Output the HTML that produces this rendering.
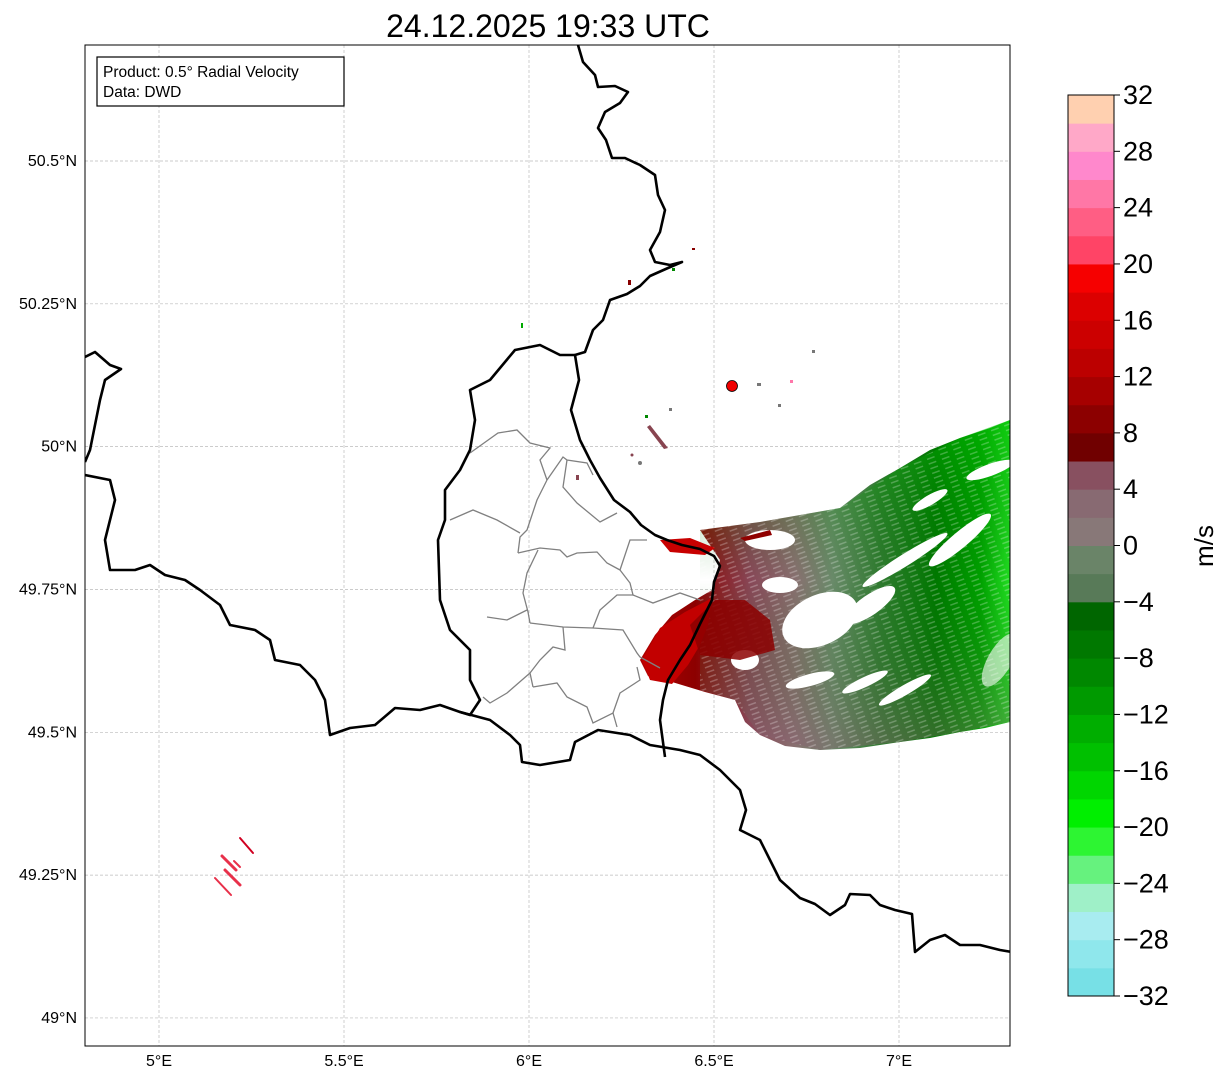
<!DOCTYPE html>
<html><head><meta charset="utf-8">
<style>
body{margin:0;background:#fff;}
svg{display:block;font-family:"Liberation Sans","DejaVu Sans",sans-serif;}
</style></head>
<body>
<svg id="fig" width="1225" height="1081" viewBox="0 0 1225 1081" xmlns="http://www.w3.org/2000/svg">
<defs>
<linearGradient id="velgrad" x1="640" y1="0" x2="1010" y2="0" gradientUnits="userSpaceOnUse">
<stop offset="0" stop-color="#b00000"/>
<stop offset="0.15" stop-color="#8c0000"/>
<stop offset="0.3" stop-color="#884858"/>
<stop offset="0.42" stop-color="#887070"/>
<stop offset="0.52" stop-color="#6a8a6a"/>
<stop offset="0.65" stop-color="#2f7a2f"/>
<stop offset="0.8" stop-color="#007800"/>
<stop offset="0.92" stop-color="#00a000"/>
<stop offset="1" stop-color="#22dd22"/>
</linearGradient>
<linearGradient id="vgrad2" x1="0" y1="420" x2="0" y2="740" gradientUnits="userSpaceOnUse">
<stop offset="0" stop-color="#00c000" stop-opacity="0.5"/>
<stop offset="0.5" stop-color="#007000" stop-opacity="0"/>
<stop offset="1" stop-color="#886070" stop-opacity="0.4"/>
</linearGradient>
<pattern id="streaks" width="14" height="5" patternUnits="userSpaceOnUse" patternTransform="rotate(-20)">
<rect width="14" height="5" fill="none"/>
<rect x="0" y="3" width="8" height="1.5" fill="#fff" opacity="0.25"/>
</pattern>
<clipPath id="mapclip"><rect x="85" y="45" width="925" height="1001"/></clipPath>
</defs>

<text x="548" y="37" font-size="32" text-anchor="middle">24.12.2025 19:33 UTC</text>

<g id="grid"></g>
<g id="ticks"></g>

<g clip-path="url(#mapclip)">
<g>
<path d="M700,530 L760,522 L800,515 L840,508 L870,485 L900,468 L930,450 L960,438 L990,428 L1010,420 L1010,722 L985,728 L960,732 L930,738 L900,742 L860,748 L820,750 L785,746 L760,735 L745,722 L735,700 L705,692 L672,682 L648,676 L640,660 L655,635 L672,615 L695,600 L712,590 L720,560 Z" fill="url(#velgrad)"/>
<path d="M700,530 L760,522 L840,508 L900,468 L960,438 L1010,420 L1010,722 L960,732 L900,742 L820,750 L760,735 L735,700 L700,690 Z" fill="url(#vgrad2)"/>
<path d="M700,530 L760,522 L840,508 L900,468 L960,438 L1010,420 L1010,722 L960,732 L900,742 L820,750 L760,735 L735,700 L700,690 Z" fill="url(#streaks)"/>
<ellipse cx="905" cy="560" rx="50" ry="6" transform="rotate(-32 905 560)" fill="#fff"/>
<ellipse cx="960" cy="540" rx="40" ry="8" transform="rotate(-40 960 540)" fill="#fff"/>
<ellipse cx="990" cy="470" rx="25" ry="6" transform="rotate(-20 990 470)" fill="#fff"/>
<ellipse cx="930" cy="500" rx="20" ry="5" transform="rotate(-30 930 500)" fill="#fff"/>
<ellipse cx="820" cy="620" rx="40" ry="25" transform="rotate(-25 820 620)" fill="#fff"/>
<ellipse cx="870" cy="605" rx="30" ry="10" transform="rotate(-35 870 605)" fill="#fff"/>
<ellipse cx="780" cy="585" rx="18" ry="8" fill="#fff"/>
<ellipse cx="770" cy="540" rx="25" ry="10" fill="#fff"/>
<ellipse cx="745" cy="660" rx="14" ry="10" fill="#fff"/>
<ellipse cx="810" cy="680" rx="25" ry="6" transform="rotate(-15 810 680)" fill="#fff"/>
<ellipse cx="865" cy="682" rx="25" ry="5" transform="rotate(-25 865 682)" fill="#fff"/>
<ellipse cx="905" cy="690" rx="30" ry="5" transform="rotate(-30 905 690)" fill="#fff"/>
<ellipse cx="1000" cy="660" rx="12" ry="30" transform="rotate(30 1000 660)" fill="#fff" opacity="0.6"/>
<path d="M642,660 L660,628 L685,612 L712,598 L708,625 L700,645 L688,665 L672,684 L650,680 Z" fill="#c20000"/>
<path d="M690,625 L715,600 L745,600 L770,620 L775,650 L740,660 L700,655 Z" fill="#8c0000" opacity="0.85"/>
<path d="M660,540 L690,538 L715,548 L705,555 L670,552 Z" fill="#c80000"/>
<path d="M740,538 L770,530 L772,535 L745,541 Z" fill="#900000"/>
<path d="M650,425 L668,448 L664,449 L647,427 Z" fill="#884450"/>
<circle cx="640" cy="463" r="2" fill="#777"/>
<circle cx="632" cy="455" r="1.5" fill="#884450"/>
<rect x="521" y="323" width="2" height="5" fill="#0a0"/>
<rect x="692" y="248" width="3" height="2" fill="#880000"/>
<rect x="628" y="280" width="3" height="5" fill="#880000"/>
<rect x="672" y="268" width="3" height="3" fill="#080"/>
<rect x="757" y="383" width="4" height="3" fill="#777"/>
<rect x="790" y="380" width="3" height="3" fill="#f7a"/>
<rect x="812" y="350" width="3" height="3" fill="#777"/>
<rect x="778" y="404" width="3" height="3" fill="#777"/>
<rect x="669" y="408" width="3" height="3" fill="#777"/>
<rect x="645" y="415" width="3" height="3" fill="#080"/>
<rect x="576" y="475" width="3" height="5" fill="#884450"/>
</g>
<g stroke-linecap="round">
<line x1="240" y1="838" x2="253" y2="853" stroke="#d00020" stroke-width="2"/>
<line x1="222" y1="856" x2="236" y2="870" stroke="#e8304a" stroke-width="3"/>
<line x1="234" y1="861" x2="240" y2="867" stroke="#e8304a" stroke-width="2"/>
<line x1="225" y1="870" x2="240" y2="885" stroke="#e8304a" stroke-width="3"/>
<line x1="215" y1="878" x2="231" y2="895" stroke="#e8304a" stroke-width="2"/>
</g>
<g fill="none" stroke="#808080" stroke-width="1.3">
<polyline points="470,453 498,433 517,430 530,443 550,448 540,460 547,480"/>
<polyline points="547,480 563,457 567,460 587,463 593,475"/>
<polyline points="567,460 563,487 577,503 600,522 617,513"/>
<polyline points="547,480 537,500 527,530 520,537 518,553"/>
<polyline points="450,520 473,510 497,520 520,533"/>
<polyline points="518,553 540,548 560,550 567,557 577,553 597,552 607,563 620,570"/>
<polyline points="620,570 630,540 647,540"/>
<polyline points="620,570 630,583 633,595 617,595 600,610 593,628"/>
<polyline points="633,595 653,603 680,593 700,600"/>
<polyline points="538,550 527,573 523,593 528,612 530,623"/>
<polyline points="487,617 507,620 527,610"/>
<polyline points="530,623 563,627 593,628 623,630 637,653 640,657 660,668"/>
<polyline points="563,627 565,650 553,647 540,660 530,673 533,687"/>
<polyline points="530,673 507,693 490,703 483,697"/>
<polyline points="533,687 557,683 567,697 587,707 593,723 613,713 617,727"/>
<polyline points="613,713 620,693 640,680 637,667"/>
</g>
<g fill="none" stroke="#000" stroke-width="2.6" stroke-linejoin="round">
<polyline points="578,45 583,62 595,75 598,87 615,86 628,92 620,103 605,112 598,128 606,140 612,158 625,158 640,165 655,175 658,195 665,210 660,232 650,250 655,262 670,265 682,262 668,268 650,276 640,286 627,294 610,300 603,320 593,330 585,352 575,355 579,380 571,410 580,440 590,460 600,478 614,500 630,512 641,525 655,535 667,540 682,545 700,549 714,556 720,566 714,582 712,600 700,624 690,645 680,660 668,680 663,700 660,720 665,757"/>
<polyline points="575,355 560,355 540,345 515,350 490,380 470,390 475,420 470,450 460,470 445,490 445,520 438,540 440,600 450,630 470,650 470,680 480,700 470,715 460,712 440,705 420,710 395,708 375,725 350,728 330,735 325,700 315,680 300,665 275,660 270,640 255,630 230,625 220,605 200,590 185,580 165,575 150,565 135,570 110,570 105,540 115,500 110,480 85,475"/>
<polyline points="460,712 490,720 510,735 520,745 522,762 540,765 570,760 575,742 598,730 630,735 650,745 680,750 700,755 720,770 740,790 746,810 740,830 760,840 770,860 780,880 800,898 815,904 830,915 845,905 850,894 870,895 880,905 895,910 912,914 915,952 930,940 945,935 960,945 980,945 1000,950 1012,952"/>
<polyline points="85,357 95,352 110,365 121,369 105,380 100,400 96,420 90,450 85,462"/>
</g>
<circle cx="732" cy="386" r="5.5" fill="#f00000" stroke="#000" stroke-width="0.8"/>
</g>
<rect x="85" y="45" width="925" height="1001" fill="none" stroke="#000" stroke-width="1"/>

<g>
<rect x="97" y="57" width="247" height="49" fill="#fff" stroke="#000" stroke-width="1.2"/>
<text x="103" y="77" font-size="15.5">Product: 0.5° Radial Velocity</text>
<text x="103" y="97" font-size="15.5">Data: DWD</text>
</g>

<g id="cbar"></g>
<text x="0" y="0" font-size="26" text-anchor="middle" transform="translate(1213 546) rotate(-90)">m/s</text>
</svg>
<script>
const lonTicks = [5, 5.5, 6, 6.5, 7];
const lonLabels = ["5°E", "5.5°E", "6°E", "6.5°E", "7°E"];
const latTicks = [50.5, 50.25, 50, 49.75, 49.5, 49.25, 49];
const latLabels = ["50.5°N", "50.25°N", "50°N", "49.75°N", "49.5°N", "49.25°N", "49°N"];
const cbarColors = ["#77e0e6","#8fe7ec","#a8ecf0","#9ff0c8","#66f27e","#2df532","#00ef00","#00d600","#00c000","#00ae00","#009a00","#008800","#007800","#006600","#587a58","#6a8468","#887878","#886a72","#885060","#700000","#8c0000","#a60000","#bc0000","#cc0000","#dc0000","#f60000","#ff4466","#ff5e84","#ff77a6","#ff88cc","#ffa8c8","#ffd0b0"];
const cbarTicks = [-32,-28,-24,-20,-16,-12,-8,-4,0,4,8,12,16,20,24,28,32];

const NS = "http://www.w3.org/2000/svg";
const xOf = lon => 159 + (lon - 5) * 370;
const yOf = lat => 161 + (50.5 - lat) * 571.3;
const grid = document.getElementById('grid');
const ticks = document.getElementById('ticks');
function mk(tag, attrs, parent){ const e=document.createElementNS(NS,tag); for(const k in attrs) e.setAttribute(k,attrs[k]); parent.appendChild(e); return e; }
lonTicks.forEach((lon,i)=>{
  const x = xOf(lon);
  const g = mk('line',{x1:x,y1:45,x2:x,y2:1046,stroke:'#bbb','stroke-width':0.7,'stroke-dasharray':'3,2'},grid);
  
  
  const t = mk('text',{x:x,y:1066,'font-size':16,'text-anchor':'middle'},ticks);
  t.textContent = lonLabels[i];
  
  
});
latTicks.forEach((lat,i)=>{
  const y = yOf(lat);
  const g = mk('line',{x1:85,y1:y,x2:1010,y2:y,stroke:'#bbb','stroke-width':0.7,'stroke-dasharray':'3,2'},grid);
  
  
  const t = mk('text',{x:77,y:y+5,'font-size':16,'text-anchor':'end'},ticks);
  t.textContent = latLabels[i];
  
  
});
const cb = document.getElementById('cbar');
const cTop=95, cBot=996, cX=1068, cW=46;
const vY = v => cBot - (v + 32) / 64 * (cBot - cTop);
cbarColors.forEach((c,i)=>{
  const v0 = -32 + i*2;
  const r = mk('rect',{x:cX,y:vY(v0+2),width:cW,height:vY(v0)-vY(v0+2)+0.5,fill:c},cb);
  
  
});
mk('rect',{x:cX,y:cTop,width:cW,height:cBot-cTop,fill:'none',stroke:'#000','stroke-width':1},cb);
cbarTicks.forEach(v=>{
  const y = vY(v);
  mk('line',{x1:cX+cW,y1:y,x2:cX+cW+6,y2:y,stroke:'#000','stroke-width':1},cb);
  const t = mk('text',{x:cX+cW+9,y:y+9,'font-size':27},cb);
  t.textContent = v<0 ? '\u2212'+Math.abs(v) : String(v);
  
  
});
</script>
</body></html>
